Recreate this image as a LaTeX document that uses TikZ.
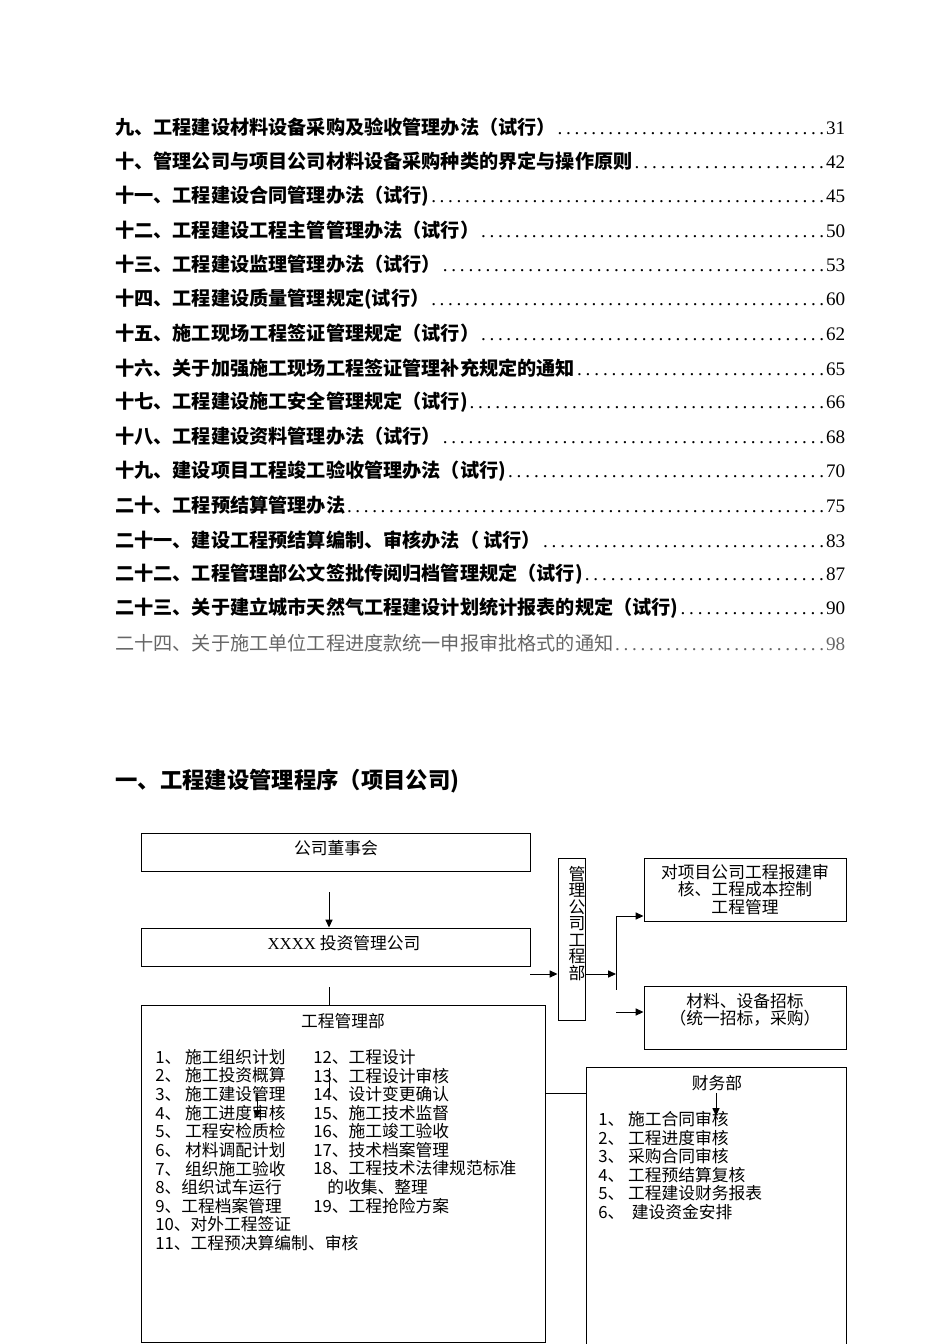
\documentclass[tikz,border=0pt]{standalone}
\usepackage{fontspec}
\setmainfont{Liberation Serif}
\newfontfamily\cjk{Noto Sans CJK SC}
\usetikzlibrary{arrows.meta}
\newcommand\tocdots{\xleaders\hbox to 0.44em{\hss.\hss}\hfill}

\begin{document}
\begin{tikzpicture}[x=0.6265pt, y=-0.6265pt,
  box/.style={draw, line width=0.6pt, inner sep=0pt},
  ln/.style={line width=0.6pt},
  arr/.style={line width=0.6pt, -{Triangle[length=5pt,width=4.5pt]}},
  toc/.style={anchor=west, inner sep=0pt, font=\fontsize{12}{14}\selectfont},
  item/.style={anchor=west, inner sep=0pt, font=\cjk\fontsize{10.5}{12}\selectfont}]

\useasboundingbox (0,0) rectangle (950,1344);
\clip (0,0) rectangle (950,1344);

\foreach \t/\p [count=\i] in {
  {九、工程建设材料设备采购及验收管理办法（试行）}/31,
  {十、管理公司与项目公司材料设备采购种类的界定与操作原则}/42,
  {十一、工程建设合同管理办法（试行)}/45,
  {十二、工程建设工程主管管理办法（试行）}/50,
  {十三、工程建设监理管理办法（试行）}/53,
  {十四、工程建设质量管理规定(试行）}/60,
  {十五、施工现场工程签证管理规定（试行）}/62,
  {十六、关于加强施工现场工程签证管理补充规定的通知}/65,
  {十七、工程建设施工安全管理规定（试行)}/66,
  {十八、工程建设资料管理办法（试行）}/68,
  {十九、建设项目工程竣工验收管理办法（试行)}/70,
  {二十、工程预结算管理办法}/75,
  {二十一、建设工程预结算编制、审核办法（ 试行）}/83,
  {二十二、工程管理部公文签批传阅归档管理规定（试行)}/87,
  {二十三、关于建立城市天然气工程建设计划统计报表的规定（试行)}/90}
  \node[toc] (toc\i) at (115,{127+34.4*(\i-1)})
    {\makebox[457.3pt][l]{{\cjk\bfseries\t}\tocdots\p}};
\node[toc, text=black!60] (toc16) at (115,643)
  {\makebox[457.3pt][l]{{\cjk 二十四、关于施工单位工程进度款统一申报审批格式的通知}\tocdots 98}};

\node[item, font=\cjk\bfseries\fontsize{14}{16}\selectfont] (head) at (115,781)
  {一、工程建设管理程序（项目公司)};

% boxes
\node[box, minimum width={389*0.6265pt}, minimum height={38*0.6265pt}] (board) at (335.5,852) {};
\node[box, minimum width={389*0.6265pt}, minimum height={38*0.6265pt}] (invest) at (335.5,947) {};
\node[box, minimum width={27*0.6265pt}, minimum height={162*0.6265pt}] (mgmt) at (571.5,939) {};
\node[box, minimum width={202*0.6265pt}, minimum height={63*0.6265pt}] (audit) at (745,889.5) {};
\node[box, minimum width={202*0.6265pt}, minimum height={63*0.6265pt}] (bid) at (745,1017.5) {};
\node[box, minimum width={404*0.6265pt}, minimum height={337*0.6265pt}] (eng) at (343,1173.5) {};
\node[box, minimum width={260*0.6265pt}, minimum height={293*0.6265pt}] (fin) at (716,1213.5) {};

\node[item, anchor=center] (boardt) at (336,848) {公司董事会};
\node[item, anchor=center] (investt) at (344,943) {{\rmfamily XXXX}\ 投资管理公司};
\node[item, anchor=north, align=center, font=\cjk\fontsize{10.5}{10.34}\selectfont] (mgmtt) at (577,866)
  {管\\理\\公\\司\\工\\程\\部};
\node[item, anchor=center, align=center, font=\cjk\fontsize{10.5}{11}\selectfont] (auditt) at (745,889.5)
  {对项目公司工程报建审\\核、工程成本控制\\工程管理};
\node[item, anchor=center, align=center, font=\cjk\fontsize{10.5}{10.7}\selectfont] (bidt) at (745,1009.5)
  {材料、设备招标\\（统一招标，采购）};
\node[item, anchor=center] (engt) at (343,1021) {工程管理部};
\node[item, anchor=center] (fint) at (717,1083) {财务部};

\foreach \t [count=\i] in {1、\ 施工组织计划, 2、\ 施工投资概算, 3、\ 施工建设管理,
  4、\ 施工进度审核, 5、\ 工程安检质检, 6、\ 材料调配计划, 7、\ 组织施工验收,
  8、组织试车运行, 9、工程档案管理, 10、对外工程签证, 11、工程预决算编制、审核}
  \node[item] (el\i) at (155,{1057+18.6*(\i-1)}) {\t};

\foreach \x/\t [count=\i] in {313/12、工程设计, 313/13、工程设计审核, 313/14、设计变更确认,
  313/15、施工技术监督, 313/16、施工竣工验收, 313/17、技术档案管理,
  313/18、工程技术法律规范标准, 327/的收集、整理, 313/19、工程抢险方案}
  \node[item] (er\i) at (\x,{1057+18.6*(\i-1)}) {\t};

\foreach \t [count=\i] in {1、\ 施工合同审核, 2、\ 工程进度审核, 3、\ 采购合同审核,
  4、\ 工程预结算复核, 5、\ 工程建设财务报表, 6、\ \ 建设资金安排}
  \node[item] (fi\i) at (598,{1119+18.6*(\i-1)}) {\t};

% connectors
\coordinate (b1) at (329,892);
\coordinate (b2) at (329,987);
\coordinate (b3) at (530,974);
\coordinate (ft) at (616,916);
\coordinate (fb) at (616,990);
\coordinate (fl) at (616,1012);
\coordinate (c1) at (545,1093);
\coordinate (s1) at (257,1093);
\coordinate (s2) at (329,1068);
\coordinate (s3) at (716,1093);

\draw[arr] (b1) -- (b1 |- invest.north);
\draw[ln] (b2) -- (b2 |- eng.north);
\draw[arr] (b3) -- (b3 -| mgmt.west);
\draw[arr] (mgmt.east |- b3) -- (ft |- b3);
\draw[ln] (ft) -- (fb);
\draw[arr] (ft) -- (ft -| audit.west);
\draw[arr] (fl) -- (fl -| bid.west);
\draw[ln] (c1) -- (c1 -| fin.west);
\draw[arr] (s1) -- ++(0,25);
\draw[ln] (s2) -- ++(0,25);
\draw[arr] (s3) -- ++(0,23);

\end{tikzpicture}
\end{document}
